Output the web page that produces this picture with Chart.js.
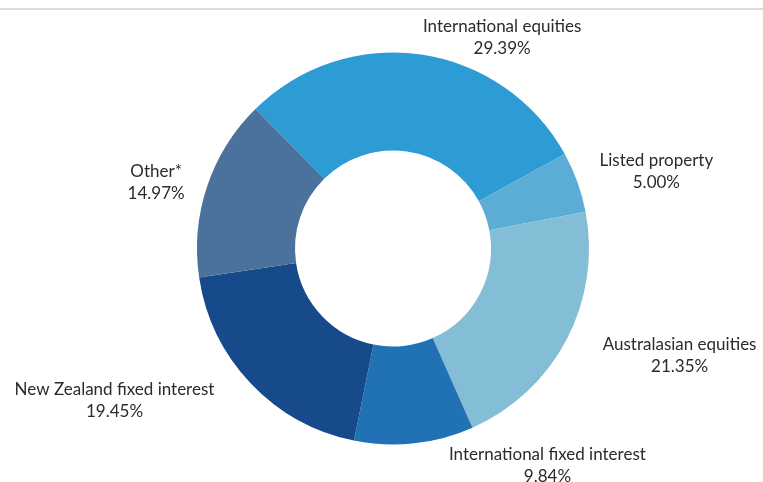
<!DOCTYPE html>
<html>
<head>
<meta charset="utf-8">
<script src="https://cdn.jsdelivr.net/npm/chart.js@4/dist/chart.umd.min.js"></script>
<style>
  html, body { margin: 0; padding: 0; background: #ffffff; }
  #wrap { position: relative; width: 763px; height: 482px; }
</style>
</head>
<body>
<div id="wrap"><canvas id="c" width="763" height="482"></canvas></div>
<script>
// Data
const categories = [
  'International equities',
  'Listed property',
  'Australasian equities',
  'International fixed interest',
  'New Zealand fixed interest',
  'Other*'
];
const shares = [29.39, 5.00, 21.35, 9.84, 19.45, 14.97];
const sliceColors = ['#2d9bd4', '#5badd5', '#84bdd6', '#2172b4', '#164a8a', '#4a729c'];

// label placement (angle from top in degrees, distance as multiple of outer radius)
const labelPlacement = [
  { angle: 27.4, dist: 1.21 },
  { angle: 73.7, dist: 1.40 },
  { angle: 110.4, dist: 1.56 },
  { angle: 144.6, dist: 1.36 },
  { angle: 241.3, dist: 1.62 },
  { angle: 285.6, dist: 1.255 }
];

const labelPlugin = {
  id: 'sliceLabels',
  beforeDraw(chart) {
    const ctx = chart.ctx;
    ctx.save();
    ctx.fillStyle = '#dcdcdc';
    ctx.fillRect(0, 8, chart.width, 2);
    ctx.restore();
  },
  afterDraw(chart) {
    const ctx = chart.ctx;
    const meta = chart.getDatasetMeta(0);
    ctx.save();
    ctx.font = '17px Lato, "Open Sans", sans-serif';
    ctx.fillStyle = '#2b2b2b';
    ctx.textAlign = 'center';
    ctx.textBaseline = 'middle';
    meta.data.forEach((arc, i) => {
      const p = labelPlacement[i];
      const a = (p.angle - 90) * Math.PI / 180;
      const r = arc.outerRadius * p.dist;
      const x = arc.x + Math.cos(a) * r;
      const y = arc.y + Math.sin(a) * r;
      ctx.fillText(categories[i], x, y - 11);
      ctx.fillText(shares[i].toFixed(2) + '%', x, y + 11);
    });
    ctx.restore();
  }
};

new Chart(document.getElementById('c'), {
  type: 'doughnut',
  data: {
    labels: categories,
    datasets: [{
      data: shares,
      backgroundColor: sliceColors,
      borderWidth: 0,
      hoverOffset: 0
    }]
  },
  options: {
    responsive: false,
    animation: false,
    cutout: '50%',
    rotation: -44.6,
    layout: { padding: { left: 197, right: 174, top: 52, bottom: 37 } },
    plugins: {
      legend: { display: false },
      tooltip: { enabled: false }
    }
  },
  plugins: [labelPlugin]
});
</script>
</body>
</html>
